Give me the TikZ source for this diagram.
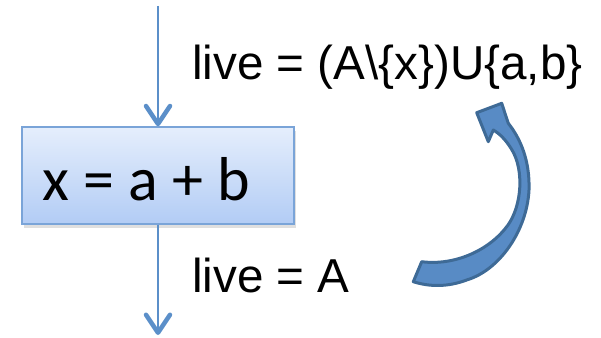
\documentclass[tikz,border=0pt]{standalone}
\usepackage{fontspec}
\setmainfont{Liberation Sans}
\newfontfamily\calib{Carlito}
\usetikzlibrary{arrows.meta,shadows}
\definecolor{flowblue}{RGB}{91,143,201}
\definecolor{boxtop}{RGB}{229,238,252}
\definecolor{boxbot}{RGB}{178,204,245}
\definecolor{boxedge}{RGB}{122,164,216}
\definecolor{bigfill}{RGB}{88,139,197}
\definecolor{bigedge}{RGB}{62,106,150}
\tikzset{
  flowarrow/.style={draw=flowblue, line width=2pt,
    -{Straight Barb[length=18pt,width=24pt,line width=4.5pt,round]}},
  stmtbox/.style={draw=boxedge, line width=1.5pt, top color=boxtop, bottom color=boxbot,
    minimum width=272pt, minimum height=97pt, inner sep=0pt,
    drop shadow={opacity=0.25, shadow xshift=2pt, shadow yshift=-4pt}},
  livetext/.style={anchor=base west, inner sep=0pt, font=\fontsize{47.6}{52}\selectfont},
  stmttext/.style={anchor=base west, inner sep=0pt, font=\calib\fontsize{62}{66}\selectfont},
  bigarrow/.style={fill=bigfill, draw=bigedge, line width=3pt, line join=round}
}
\begin{document}
\begin{tikzpicture}[x=1pt,y=-1pt]
\useasboundingbox (0,0) rectangle (601,337);
\node[stmtbox] (box) at (158,175.5) {};
\node[stmttext] (stmt) at (42.5,200) {x = a + b};
\coordinate (top) at (158,6);
\coordinate (bot) at (158,335);
\draw[flowarrow] (top) -- (box.north);
\draw[flowarrow] (box.south) -- (bot);
\node[livetext] (livein) at (192,79) {live = (A\textbackslash\{x\})U\{a,b\}};
\node[livetext] (liveout) at (192,292) {live = A};
\path[bigarrow]
  (421.7,261.7) .. controls (455,266) and (490,250) .. (508,225)
  .. controls (522,205) and (524,170) .. (512,150)
  .. controls (506,140) and (500,134) .. (493.3,130)
  -- (488.3,141.7) -- (476.7,112.7) -- (501.7,103.3) -- (508.3,123.3)
  .. controls (520,138) and (530,160) .. (529,190)
  .. controls (527,230) and (500,270) .. (466.7,280)
  .. controls (448,287) and (430,287) .. (413.3,281.7)
  -- cycle;
\end{tikzpicture}
\end{document}
